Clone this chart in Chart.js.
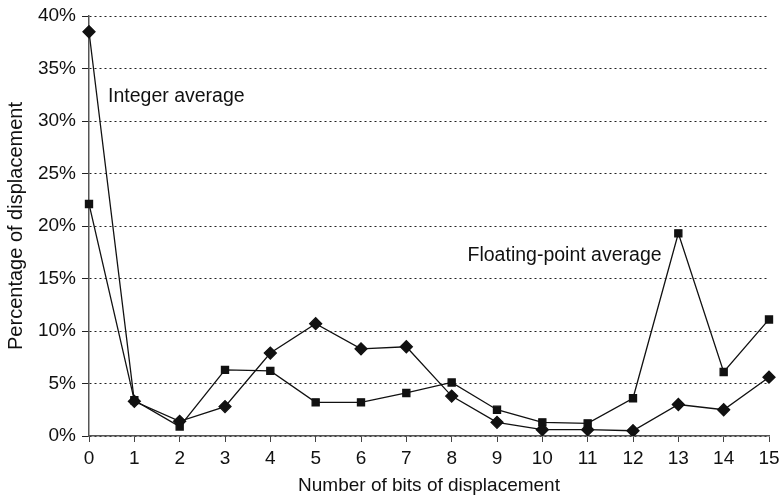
<!DOCTYPE html>
<html>
<head>
<meta charset="utf-8">
<script src="https://cdn.jsdelivr.net/npm/chart.js@4.4.0/dist/chart.umd.min.js"></script>
<style>
  html, body { margin: 0; padding: 0; background: #fff; }
  .chart-container { width: 781px; height: 501px; }
</style>
</head>
<body>
<div class="chart-container"><canvas id="myChart"></canvas></div>
<script>
const bits = ["0","1","2","3","4","5","6","7","8","9","10","11","12","13","14","15"];
const integerAvg = [38.5, 3.3, 1.4, 2.8, 7.9, 10.7, 8.3, 8.5, 3.8, 1.3, 0.6, 0.6, 0.5, 3.0, 2.5, 5.6];
const floatAvg = [22.1, 3.4, 0.9, 6.3, 6.2, 3.2, 3.2, 4.1, 5.1, 2.5, 1.3, 1.2, 3.6, 19.3, 6.1, 11.1];
const notes = [
  { text: "Integer average", x: 0.42, y: 32.3 },
  { text: "Floating-point average", x: 8.35, y: 17.2 }
];

const ink = "#111";
const fontFamily = "'Liberation Sans', Arial, sans-serif";
Chart.defaults.font.family = fontFamily;
Chart.defaults.font.size = 19;
Chart.defaults.color = ink;

// text labels next to the lines
const notesPlugin = {
  id: "notes",
  afterDatasetsDraw(chart) {
    const ctx = chart.ctx;
    const xs = chart.scales.x, ys = chart.scales.y;
    ctx.save();
    ctx.font = "19.5px " + fontFamily;
    ctx.fillStyle = ink;
    ctx.textBaseline = "middle";
    notes.forEach(n => {
      const px = xs.getPixelForValue(0) + (xs.getPixelForValue(1) - xs.getPixelForValue(0)) * n.x;
      ctx.fillText(n.text, px, ys.getPixelForValue(n.y));
    });
    ctx.restore();
  }
};

const ctx = document.getElementById("myChart").getContext("2d");
new Chart(ctx, {
  type: "line",
  data: {
    labels: bits,
    datasets: [
      {
        label: "Integer average",
        data: integerAvg,
        borderColor: ink,
        backgroundColor: ink,
        borderWidth: 1.3,
        pointStyle: "rectRot",
        pointRadius: 6,
        tension: 0
      },
      {
        label: "Floating-point average",
        data: floatAvg,
        borderColor: ink,
        backgroundColor: ink,
        borderWidth: 1.3,
        pointStyle: "rect",
        pointRadius: 5,
        tension: 0
      }
    ]
  },
  options: {
    responsive: true,
    maintainAspectRatio: false,
    animation: false,
    layout: { padding: { top: 16, right: 12, left: 0, bottom: 0 } },
    plugins: { legend: { display: false }, tooltip: { enabled: false } },
    scales: {
      x: {
        offset: false,
        grid: { drawOnChartArea: false, color: "#444", tickLength: 6 },
        border: { color: "#555", width: 1.5 },
        ticks: { padding: 5, maxRotation: 0, autoSkip: false },
        title: { display: true, text: "Number of bits of displacement", padding: { top: 6 } },
        afterFit(scale) { scale.height = 65; scale.paddingRight = 0; scale.paddingLeft = 0; }
      },
      y: {
        min: 0,
        max: 40,
        grid: { color: "#222", lineWidth: 1, tickLength: 7, tickBorderDash: [] },
        border: { color: "#555", width: 1.5, dash: [2, 3] },
        ticks: { stepSize: 5, padding: 6, callback: v => v + "%" },
        title: { display: true, text: "Percentage of displacement", font: { size: 20 }, padding: { top: 4, bottom: 2 } },
        afterFit(scale) { scale.width = 89; scale.paddingTop = 0; scale.paddingBottom = 0; }
      }
    }
  },
  plugins: [notesPlugin]
});
</script>
</body>
</html>
